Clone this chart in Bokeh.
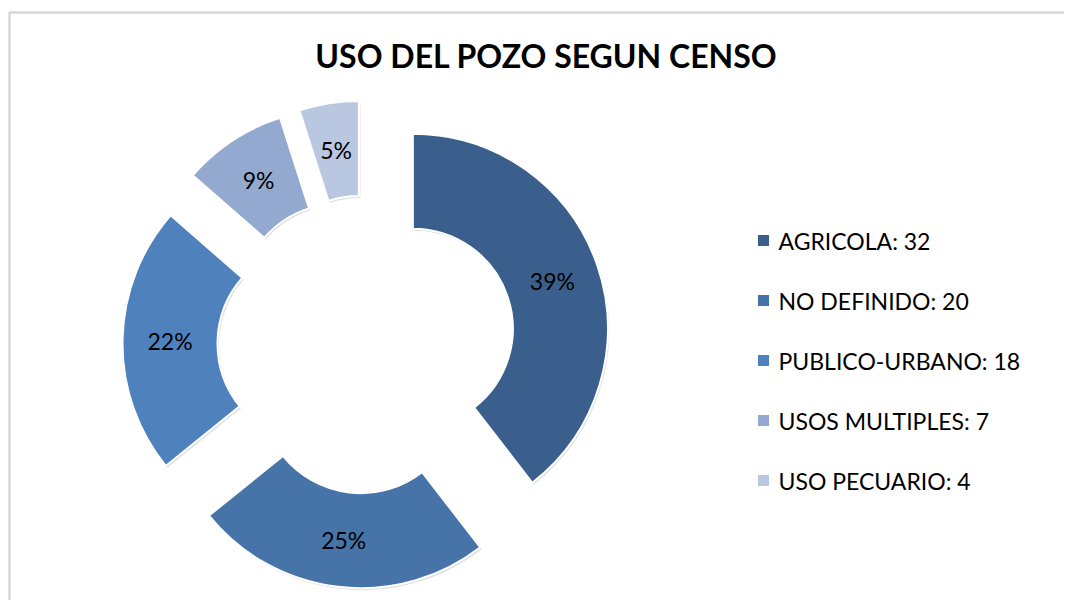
import math
from bokeh.plotting import figure
from bokeh.models import Range1d, BoxAnnotation
from bokeh.core.properties import value
from bokeh.embed import file_html
from bokeh.resources import INLINE

# ---- data ----
categories = ["AGRICOLA", "NO DEFINIDO", "PUBLICO-URBANO", "USOS MULTIPLES", "USO PECUARIO"]
counts = [32, 20, 18, 7, 4]
pct_labels = ["39%", "25%", "22%", "9%", "5%"]
colors = ["#3B5F8D", "#4673A8", "#4F81BD", "#94A9D0", "#B9C7E1"]
title_text = "USO DEL POZO SEGUN CENSO"

# ---- layout (pixel-like data space) ----
W, H = 1064, 600
FONT = "Lato"
cx, cy = 366, 256      # donut centre
R_out, R_in = 195, 100
explode = 49

p = figure(width=W, height=H, x_range=Range1d(0, W), y_range=Range1d(0, H),
           output_backend="svg", toolbar_location=None, min_border=0)
p.axis.visible = False
p.grid.visible = False
p.outline_line_color = None
p.background_fill_color = "white"
p.border_fill_color = "white"

# chart border (left and top visible)
p.add_layout(BoxAnnotation(left=9, right=W + 20, top=588, bottom=-20,
                           fill_alpha=0, line_color="#7F7F7F", line_width=2.5))

total = float(sum(counts))
cum = 0.0
xs, ys, a0, a1, lx, ly = [], [], [], [], [], []
for c in counts:
    start = math.pi / 2 - 2 * math.pi * cum / total
    cum += c
    end = math.pi / 2 - 2 * math.pi * cum / total
    mid = (start + end) / 2
    ox = cx + explode * math.cos(mid)
    oy = cy + explode * math.sin(mid)
    xs.append(ox); ys.append(oy); a0.append(start); a1.append(end)
    rm = (R_in + R_out) / 2
    lx.append(ox + rm * math.cos(mid)); ly.append(oy + rm * math.sin(mid))

# soft shadow
p.annular_wedge(x=[x + 1.5 for x in xs], y=[y - 2 for y in ys], inner_radius=R_in, outer_radius=R_out,
                start_angle=a0, end_angle=a1, direction="clock",
                fill_color="#000000", fill_alpha=0.12, line_color=None)
p.annular_wedge(x=xs, y=ys, inner_radius=R_in, outer_radius=R_out,
                start_angle=a0, end_angle=a1, direction="clock",
                fill_color=colors, line_color="white", line_width=2)

p.text(x=lx, y=ly, text=pct_labels, text_align="center", text_baseline="middle",
       text_font=value(FONT), text_font_size="23px", text_color="black")

# title
p.text(x=[546], y=[545], text=[title_text], text_align="center", text_baseline="middle",
       text_font=value(FONT), text_font_size="32px", text_font_style="bold", text_color="black")

# legend
leg_y = [360 - 60 * i for i in range(len(categories))]
leg_text = [f"{c}: {v}" for c, v in zip(categories, counts)]
p.rect(x=[763] * len(categories), y=leg_y, width=11, height=11, fill_color=colors, line_color=None)
p.text(x=[778] * len(categories), y=leg_y, text=leg_text, text_align="left", text_baseline="middle",
       text_font=value(FONT), text_font_size="23px", text_color="black")

open("out.html", "w").write(file_html(p, INLINE))
